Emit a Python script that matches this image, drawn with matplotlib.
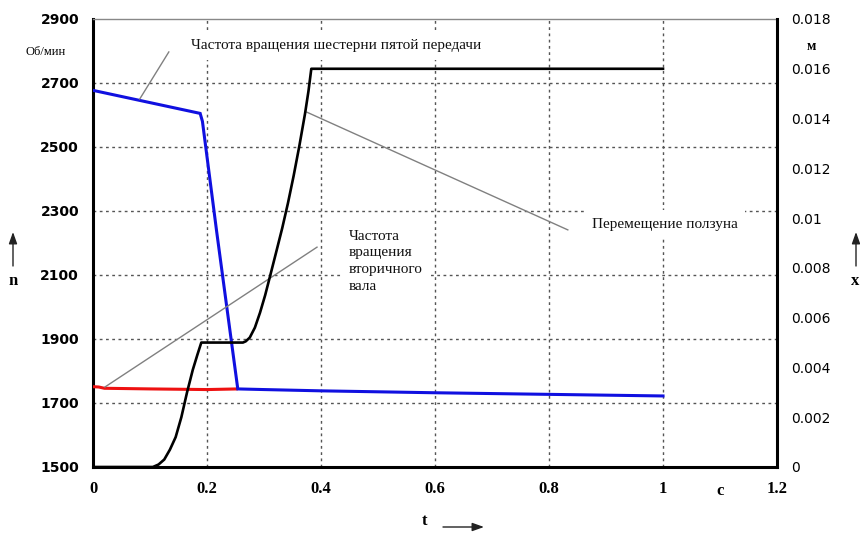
import matplotlib
matplotlib.use("Agg")
import matplotlib.pyplot as plt
from matplotlib.patches import FancyArrowPatch

# ---- data ----
t_black = [0.0, 0.105, 0.115, 0.125, 0.135, 0.145, 0.155, 0.165, 0.175, 0.183, 0.190,
           0.263, 0.268, 0.275, 0.284, 0.293, 0.302, 0.311, 0.321, 0.332, 0.342, 0.352,
           0.362, 0.372, 0.378, 0.383, 1.0]
x_black = [0.0, 0.0, 0.0001, 0.0003, 0.0007, 0.0012, 0.0020, 0.0030, 0.0039, 0.0045, 0.005,
           0.005, 0.00505, 0.0052, 0.0056, 0.0062, 0.0069, 0.0077, 0.0086, 0.0096, 0.0106, 0.0117,
           0.0129, 0.0142, 0.0151, 0.016, 0.016]

t_blue = [0.0, 0.188, 0.192, 0.217, 0.254, 0.30, 0.40, 0.60, 0.80, 1.0]
n_blue = [2677, 2605, 2580, 2235, 1744, 1742, 1738, 1732, 1727, 1722]

t_red = [0.0, 0.01, 0.02, 0.1, 0.2, 0.254]
n_red = [1751, 1750, 1746, 1744, 1742, 1744]

n_ticks = [1500, 1700, 1900, 2100, 2300, 2500, 2700, 2900]
t_ticks = [0, 0.2, 0.4, 0.6, 0.8, 1.0, 1.2]
t_labels = ['0', '0.2', '0.4', '0.6', '0.8', '1', '1.2']
x_ticks = [0, 0.002, 0.004, 0.006, 0.008, 0.010, 0.012, 0.014, 0.016, 0.018]
x_labels = ['0', '0.002', '0.004', '0.006', '0.008', '0.01', '0.012', '0.014', '0.016', '0.018']

W, H = 860, 533
fig = plt.figure(figsize=(W / 100, H / 100), dpi=100)
ax = fig.add_axes([93 / W, 1 - 467 / H, (777 - 93) / W, (467 - 19) / H])
ax2 = ax.twinx()

serif = 'Liberation Serif'

ax.set_xlim(0, 1.2)
ax.set_ylim(1500, 2900)
ax2.set_ylim(0, 0.018)

ax.set_xticks(t_ticks)
ax.set_xticklabels(t_labels, fontfamily=serif, fontsize=12, fontweight='bold')
ax.set_yticks(n_ticks)
ax.set_yticklabels([str(v) for v in n_ticks], fontfamily='DejaVu Sans', fontsize=10, fontweight='bold')
ax2.set_yticks(x_ticks)
ax2.set_yticklabels(x_labels, fontfamily='DejaVu Sans', fontsize=10)
ax.tick_params(axis='both', length=0, pad=10)
ax2.tick_params(axis='y', length=0, pad=10)

# grid
grid_kw = dict(color='#555555', linewidth=1.0, linestyle=(0, (2, 2.5)), zorder=0)
for v in t_ticks[1:-1]:
    ax.axvline(v, **grid_kw)
for v in n_ticks[1:-1]:
    ax.axhline(v, **grid_kw)

# spines
for s in ['left', 'bottom']:
    ax.spines[s].set_linewidth(2.2)
    ax.spines[s].set_color('black')
ax.spines['top'].set_linewidth(1.0)
ax.spines['top'].set_color('#888888')
ax.spines['right'].set_visible(False)
for s in ['left', 'bottom', 'top']:
    ax2.spines[s].set_visible(False)
ax2.spines['right'].set_linewidth(2.2)
ax2.spines['right'].set_color('black')

# curves
ax.plot(t_red, n_red, color='#ee1111', linewidth=2.2, zorder=3, solid_capstyle='butt')
ax.plot(t_blue, n_blue, color='#1010e0', linewidth=2.2, zorder=3, solid_joinstyle='miter')
ax2.plot(t_black, x_black, color='black', linewidth=1.9, zorder=3)

# annotations (in the rpm axis data space)
txt_kw = dict(fontfamily=serif, fontsize=11, color='#111111')
box = dict(boxstyle='square,pad=0.5', fc='white', ec='none')
ax.plot([0.082, 0.133], [2650, 2797], color='#808080', linewidth=1.0, zorder=4)
ax.text(0.172, 2816, 'Частота вращения шестерни пятой передачи', ha='left', va='center', bbox=box, zorder=2, **txt_kw)
ax.plot([0.375, 0.833], [2609, 2241], color='#808080', linewidth=1.0, zorder=4)
ax.text(0.875, 2258, 'Перемещение ползуна', ha='left', va='center', bbox=box, zorder=2, **txt_kw)
ax.plot([0.021, 0.393], [1750, 2187], color='#808080', linewidth=1.0, zorder=4)
ax.text(0.449, 2242, 'Частота\nвращения\nвторичного\nвала', ha='left', va='top', linespacing=1.38, bbox=box, zorder=2, **txt_kw)
ax.text(1.1, 1500 - 16 / 0.32, 'c', ha='center', va='top', fontfamily=serif, fontsize=12, fontweight='bold')

# axis unit labels and arrows (figure pixels)
def fp(x, y):
    return (x, H - y)

def ftext(x, y, s, **kw):
    fig.text(x / W, 1 - y / H, s, ha='center', va='center', **kw)

ftext(46, 52, 'Об/мин', fontfamily=serif, fontsize=9)
ftext(811, 46, 'м', fontfamily=serif, fontsize=10, fontweight='bold')
ftext(13, 281, 'n', fontfamily=serif, fontsize=12, fontweight='bold')
ftext(855, 281, 'x', fontfamily=serif, fontsize=12, fontweight='bold')
ftext(425, 521, 't', fontfamily=serif, fontsize=12, fontweight='bold')

arrow = dict(arrowstyle='-|>,head_length=0.7,head_width=0.25', color='#222222', lw=1.0,
             mutation_scale=10, shrinkA=0, shrinkB=0)
fig.add_artist(FancyArrowPatch(fp(13, 266), fp(13, 232), transform=None, **arrow))
fig.add_artist(FancyArrowPatch(fp(856, 266), fp(856, 232), transform=None, **arrow))
fig.add_artist(FancyArrowPatch(fp(443, 527), fp(484, 527), transform=None, **arrow))

fig.savefig('out.png', dpi=100)
